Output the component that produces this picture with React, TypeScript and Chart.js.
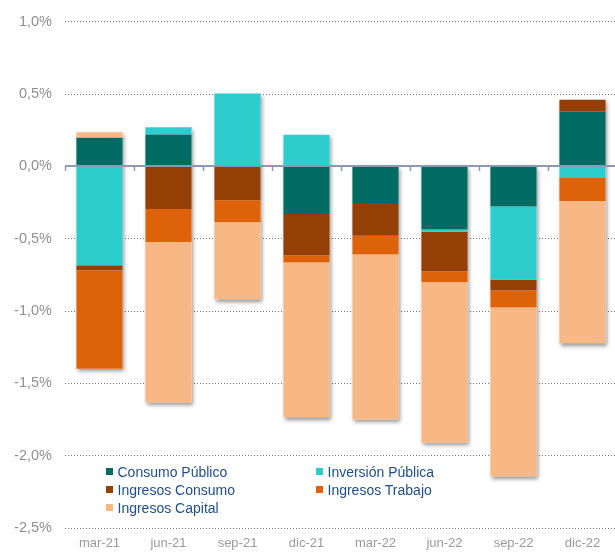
import React, { useEffect, useRef } from "react";
import { Chart, registerables } from "chart.js";

Chart.register(...registerables);

const categories = ["mar-21", "jun-21", "sep-21", "dic-21", "mar-22", "jun-22", "sep-22", "dic-22"];

const consumoPublico = [0.198, 0.221, 0, -0.33, -0.254, -0.436, -0.277, 0.378];
const inversionPublica = [-0.683, 0.05, 0.503, 0.219, 0, -0.014, -0.505, -0.076];
const ingresosConsumo = [-0.035, -0.295, -0.235, -0.286, -0.226, -0.277, -0.076, 0.083];
const ingresosTrabajo = [-0.681, -0.228, -0.152, -0.048, -0.129, -0.074, -0.118, -0.164];
const ingresosCapital = [0.037, -1.109, -0.532, -1.07, -1.141, -1.109, -1.167, -0.982];

const seriesNames = ["Consumo Público", "Inversión Pública", "Ingresos Consumo", "Ingresos Trabajo", "Ingresos Capital"];
const seriesColors = ["#006B63", "#2ECDCD", "#943F06", "#DD620A", "#F8B886"];

const yMin = -2.5;
const yMax = 1.0;
const yStep = 0.5;

const FONT = '"Liberation Sans", Arial, Helvetica, sans-serif';

const shadowPlugin = {
  id: "barShadow",
  beforeDatasetsDraw(chart: any) {
    const ctx = chart.ctx;
    const y = chart.scales.y;
    const meta0 = chart.getDatasetMeta(0);
    ctx.save();
    ctx.shadowColor = "rgba(0,0,0,0.42)";
    ctx.shadowBlur = 4;
    ctx.shadowOffsetX = 1.5;
    ctx.shadowOffsetY = 2.5;
    ctx.fillStyle = "#ffffff";
    categories.forEach((_, i) => {
      let pos = 0;
      let neg = 0;
      chart.data.datasets.forEach((ds: any) => {
        const v = ds.data[i];
        if (v > 0) pos += v;
        else neg += v;
      });
      const el = meta0.data[i];
      const w = el.width;
      const top = y.getPixelForValue(pos);
      const bottom = y.getPixelForValue(neg);
      ctx.fillRect(el.x - w / 2, top, w, bottom - top);
    });
    ctx.restore();
  },
};

const zeroLinePlugin = {
  id: "zeroLine",
  afterDatasetsDraw(chart: any) {
    const ctx = chart.ctx;
    const area = chart.chartArea;
    const y0 = Math.round(chart.scales.y.getPixelForValue(0));
    ctx.save();
    ctx.strokeStyle = "#8E98B2";
    ctx.lineWidth = 2;
    ctx.beginPath();
    ctx.moveTo(area.left, y0);
    ctx.lineTo(area.right, y0);
    ctx.stroke();
    ctx.lineWidth = 1.5;
    const n = categories.length;
    const step = (area.right - area.left) / n;
    for (let i = 0; i < n; i++) {
      const x = Math.round(area.left + i * step) + 0.5;
      ctx.beginPath();
      ctx.moveTo(x, y0);
      ctx.lineTo(x, y0 + 5);
      ctx.stroke();
    }
    ctx.restore();
  },
};

function Legend() {
  const items = [
    { name: seriesNames[0], color: seriesColors[0], x: 106, y: 471.5 },
    { name: seriesNames[1], color: seriesColors[1], x: 316, y: 471.5 },
    { name: seriesNames[2], color: seriesColors[2], x: 106, y: 489.5 },
    { name: seriesNames[3], color: seriesColors[3], x: 316, y: 489.5 },
    { name: seriesNames[4], color: seriesColors[4], x: 106, y: 507.5 },
  ];
  return (
    <>
      {items.map((it) => (
        <div
          key={it.name}
          style={{
            position: "absolute",
            left: it.x,
            top: it.y - 9,
            height: 18,
            display: "flex",
            alignItems: "center",
            fontFamily: FONT,
            fontSize: 14,
            color: "#1F4E89",
            whiteSpace: "nowrap",
          }}
        >
          <span style={{ display: "inline-block", width: 6.5, height: 6.5, background: it.color, marginRight: 5 }} />
          <span>{it.name}</span>
        </div>
      ))}
    </>
  );
}

export default function App() {
  const canvasRef = useRef<HTMLCanvasElement | null>(null);

  useEffect(() => {
    document.body.style.margin = "0";
    const canvas = canvasRef.current;
    if (!canvas) return;
    const datasetsData = [consumoPublico, inversionPublica, ingresosConsumo, ingresosTrabajo, ingresosCapital];
    const chart = new Chart(canvas, {
      type: "bar",
      data: {
        labels: categories,
        datasets: datasetsData.map((d, i) => ({
          label: seriesNames[i],
          data: d,
          backgroundColor: seriesColors[i],
          borderWidth: 0,
          barPercentage: 0.67,
          categoryPercentage: 1,
        })),
      },
      options: {
        animation: false,
        responsive: false,
        maintainAspectRatio: false,
        layout: { padding: { top: 21, right: 0, bottom: 0, left: 0 } },
        plugins: {
          legend: { display: false },
          tooltip: { enabled: false },
        },
        scales: {
          x: {
            stacked: true,
            offset: true,
            grid: { display: false, drawTicks: false },
            border: { display: false },
            ticks: {
              color: "#999999",
              padding: 8,
              font: { family: FONT, size: 13 },
              maxRotation: 0,
            },
            afterFit(scale: any) {
              scale.height = 27;
            },
          },
          y: {
            stacked: true,
            min: yMin,
            max: yMax,
            border: { display: false, dash: [1, 2] },
            grid: {
              color: "#707070",
              lineWidth: 1,
              drawTicks: false,
            },
            ticks: {
              stepSize: yStep,
              color: "#8F8F8F",
              padding: 13,
              font: { family: FONT, size: 14.5 },
              callback: (v: any) => Number(v).toFixed(1).replace(".", ",") + "%",
            },
            afterFit(scale: any) {
              scale.width = 65;
            },
          },
        },
      },
      plugins: [shadowPlugin, zeroLinePlugin],
    } as any);
    return () => chart.destroy();
  }, []);

  return (
    <div style={{ position: "relative", width: 615, height: 555, overflow: "hidden", background: "#fff" }}>
      <canvas ref={canvasRef} width={617} height={555} style={{ display: "block", width: 617, height: 555 }} />
      <Legend />
    </div>
  );
}
